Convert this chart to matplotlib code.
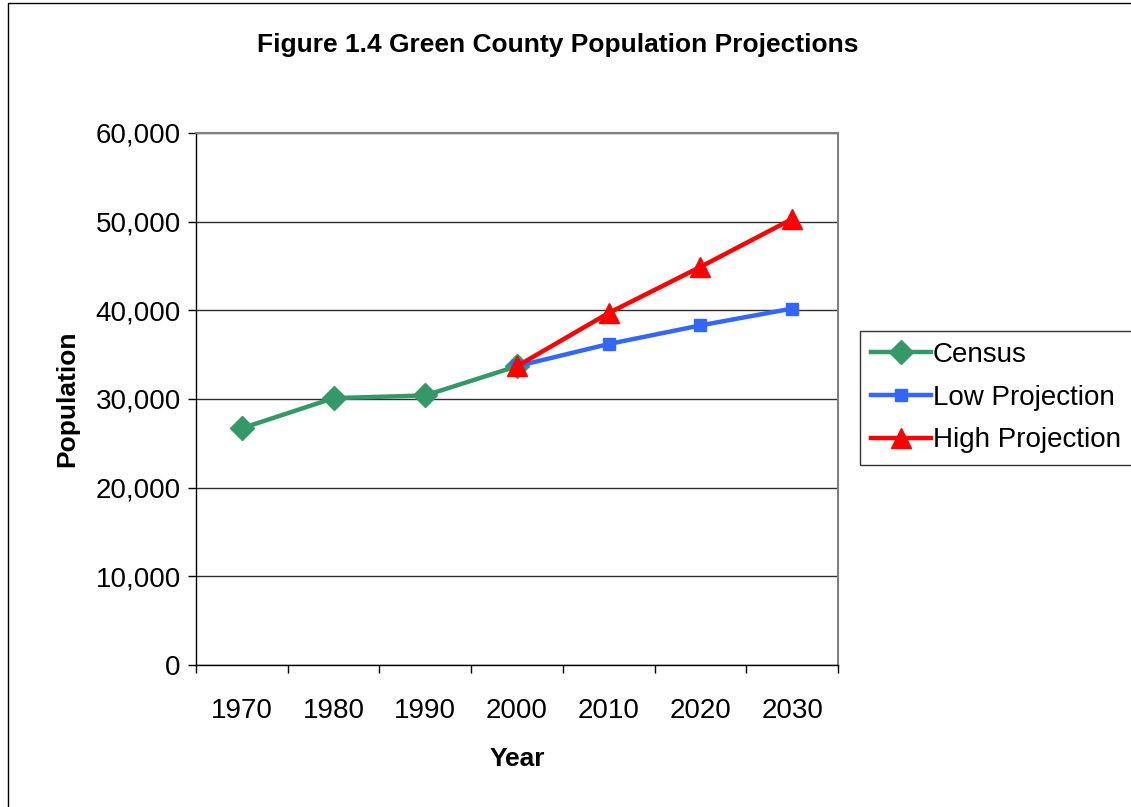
'''
Green County population: census counts and the low / high projections.
'''

import matplotlib
matplotlib.use('Agg')
import matplotlib.pyplot as plt
from matplotlib.patches import Rectangle
from matplotlib.ticker import FuncFormatter, FixedLocator

plt.rcParams['font.family'] = ['Liberation Sans', 'DejaVu Sans']

years = ['1970', '1980', '1990', '2000', '2010', '2020', '2030']

census_years = ['1970', '1980', '1990', '2000']
census = [26700, 30100, 30400, 33700]

proj_years = ['2000', '2010', '2020', '2030']
low_projection = [33700, 36200, 38300, 40200]
high_projection = [33700, 39700, 44900, 50300]

fig = plt.figure(figsize=(11.31, 8.07), dpi=100)
ax = fig.add_axes([196 / 1131, 1 - 665 / 807, 642 / 1131, 532 / 807])

# outer chart frame (runs off the right and bottom edges)
fig.patches.append(Rectangle((8 / 1131, -0.1), 1.2, 0.1 + 1 - 3 / 807,
                             transform=fig.transFigure, fill=False,
                             edgecolor='black', linewidth=1.0, clip_on=False))

xpos = {y: i for i, y in enumerate(years)}

ax.plot([xpos[y] for y in census_years], census, color='#339966', lw=3.2,
        marker='D', markersize=12, label='Census', zorder=3)
ax.plot([xpos[y] for y in proj_years], low_projection, color='#3366FF', lw=3.2,
        marker='s', markersize=9, label='Low Projection', zorder=4)
ax.plot([xpos[y] for y in proj_years], high_projection, color='#FF0000', lw=3.2,
        marker='^', markersize=15, label='High Projection', zorder=5)

ax.set_xlim(-0.5, len(years) - 0.5)
ax.set_ylim(0, 60000)
ax.set_yticks(range(0, 60001, 10000))
ax.yaxis.set_major_formatter(FuncFormatter(lambda v, p: f'{int(v):,}'))
ax.yaxis.grid(True, color='#303030', linewidth=1.0)
ax.set_axisbelow(True)

# category labels centred, tick marks between categories
ax.xaxis.set_major_locator(FixedLocator([i - 0.5 for i in range(len(years) + 1)]))
ax.xaxis.set_major_formatter(FuncFormatter(lambda v, p: ''))
ax.xaxis.set_minor_locator(FixedLocator(range(len(years))))
ax.set_xticklabels(years, minor=True)
ax.tick_params(axis='x', which='minor', length=0, pad=24, labelsize=20)
ax.tick_params(axis='x', which='major', direction='out', length=6, width=1)
ax.tick_params(axis='y', direction='out', length=6, width=1, labelsize=20, pad=5)

for side in ['top', 'right']:
    ax.spines[side].set_color('#808080')
    ax.spines[side].set_linewidth(1.5)
for side in ['left', 'bottom']:
    ax.spines[side].set_color('black')
    ax.spines[side].set_linewidth(1.0)

ax.set_xlabel('Year', fontsize=19, fontweight='bold', labelpad=16)
ax.set_ylabel('Population', fontsize=19, fontweight='bold', labelpad=12)

fig.text(558 / 1131, 1 - 45 / 807, 'Figure 1.4 Green County Population Projections',
         ha='center', va='center', fontsize=19, fontweight='bold')

leg = fig.legend(loc='upper left', bbox_to_anchor=(860 / 1131, 1 - 331 / 807),
                 fontsize=20, frameon=True, fancybox=False, borderpad=0.4,
                 handlelength=2.15, handletextpad=0.08, labelspacing=0.6,
                 borderaxespad=0)
leg.get_frame().set_edgecolor('black')
leg.get_frame().set_linewidth(1.0)

fig.savefig('out.png', dpi=100)
